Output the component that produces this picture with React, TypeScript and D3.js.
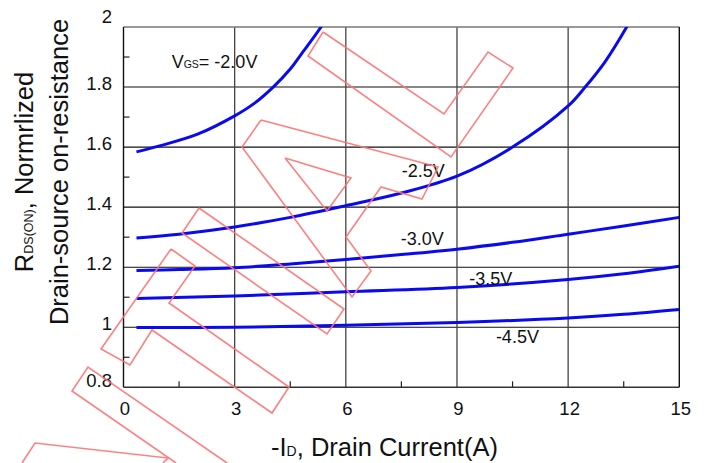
import React from "react";
import * as d3 from "d3";

// ---- data ----
const xTicks = [0, 3, 6, 9, 12, 15];
const xMinorTicks = [1.5, 4.5, 7.5, 10.5, 13.5];
const yTicks = [0.8, 1, 1.2, 1.4, 1.6, 1.8, 2];
const yTickLabels = ["0.8", "1", "1.2", "1.4", "1.6", "1.8", "2"];
const yMinorTicks = [0.9, 1.1, 1.3, 1.5, 1.7, 1.9];

const x20 = [0.35, 1, 2, 3, 3.5, 4.04, 4.5, 4.77, 5.33, 5.6];
const v20 = [1.584, 1.605, 1.643, 1.704, 1.743, 1.8, 1.86, 1.905, 2.0, 2.056];

const x25 = [0.35, 1.5, 3, 4.5, 6, 7.5, 9, 10.5, 12, 12.46, 13, 13.58, 13.8];
const v25 = [1.297, 1.31, 1.334, 1.366, 1.405, 1.447, 1.503, 1.6, 1.737, 1.8, 1.885, 2.0, 2.05];

const x30 = [0.35, 1.5, 3, 4.5, 6, 7.5, 9, 10.5, 12, 13.5, 15];
const v30 = [1.189, 1.192, 1.198, 1.211, 1.226, 1.242, 1.26, 1.283, 1.31, 1.337, 1.366];

const x35 = [0.35, 3, 6, 9, 12, 13.5, 15];
const v35 = [1.096, 1.104, 1.118, 1.132, 1.159, 1.178, 1.203];

const x45 = [0.35, 3, 6, 9, 12, 13.5, 15];
const v45 = [0.999, 1.0, 1.007, 1.016, 1.031, 1.043, 1.059];

const seriesNames = ["-2.0V", "-2.5V", "-3.0V", "-3.5V", "-4.5V"];
// label anchor points in data units
const labelX = [1.3, 7.51, 7.48, 9.33, 10.05];
const labelY = [1.862, 1.501, 1.273, 1.14, 0.946];

// decorative watermark outlines (not data)
const watermark: [number, number][][] = [
  [[323, 32], [444, 114], [488, 52], [513, 68], [451, 157], [308, 56], [323, 32]],
  [[261, 120], [438, 167], [422, 199], [381, 187], [346, 237], [371, 271], [352, 297], [242, 147], [261, 120]],
  [[285, 158], [351, 178], [327, 211], [285, 158]],
  [[199, 208], [344, 309], [327, 334], [182, 233], [199, 208]],
  [[171, 249], [195, 266], [169, 303], [289, 387], [272, 413], [152, 330], [130, 365], [101, 349], [171, 249]],
  [[227, 463], [88, 367], [72, 391], [176, 463]],
  [[22, 463], [35, 443], [168, 458], [163, 463]],
];

const W = 711;
const H = 463;
const L = 123.5, R = 679.3, T = 27, B = 387.3;

export default function App() {
  const x = d3.scaleLinear().domain([0, 15]).range([L, R]);
  const y = d3.scaleLinear().domain([0.8, 2.0]).range([B, T]);
  const line = d3
    .line<[number, number]>()
    .x((d) => x(d[0]))
    .y((d) => y(d[1]))
    .curve(d3.curveCatmullRom.alpha(0.5));

  const series = [
    d3.zip(x20, v20),
    d3.zip(x25, v25),
    d3.zip(x30, v30),
    d3.zip(x35, v35),
    d3.zip(x45, v45),
  ] as [number, number][][];

  const font = "'Liberation Sans', Arial, Helvetica, sans-serif";
  const yLabelOffset = (v: number) => (v === 2 ? -4.5 : v === 0.8 ? -0.5 : 2.5);
  const wm = d3.line<[number, number]>();

  return (
    <svg
      width={W}
      height={H}
      viewBox={`0 0 ${W} ${H}`}
      style={{ position: "absolute", left: 0, top: 0, background: "#fff" }}
      fontFamily={font}
    >
      <defs>
        <clipPath id="plot">
          <rect x={L} y={T} width={R - L} height={B - T} />
        </clipPath>
      </defs>
      <rect x={0} y={0} width={W} height={H} fill="#fff" />

      {/* grid */}
      {yTicks
        .filter((v) => v > 0.8 && v < 2)
        .map((v) => (
          <line key={"gy" + v} x1={L} x2={R} y1={y(v)} y2={y(v)} stroke="#111" strokeWidth={1.1} />
        ))}
      {xTicks
        .filter((v) => v > 0 && v < 15)
        .map((v) => (
          <line key={"gx" + v} x1={x(v)} x2={x(v)} y1={T} y2={B} stroke="#444" strokeWidth={1.3} />
        ))}
      {/* minor ticks */}
      {yMinorTicks.map((v) => (
        <line key={"my" + v} x1={L} x2={L + 6} y1={y(v)} y2={y(v)} stroke="#222" strokeWidth={1.2} />
      ))}
      {xMinorTicks.map((v) => (
        <line key={"mx" + v} x1={x(v)} x2={x(v)} y1={B} y2={B - 6} stroke="#222" strokeWidth={1.2} />
      ))}
      {/* frame */}
      <line x1={L} x2={R} y1={T} y2={T} stroke="#777" strokeWidth={1.3} />
      <line x1={R} x2={R} y1={T} y2={B} stroke="#111" strokeWidth={1.4} />
      <line x1={L} x2={L} y1={T} y2={B} stroke="#111" strokeWidth={1.4} />
      <line x1={L} x2={R} y1={B} y2={B} stroke="#333" strokeWidth={1.6} />

      {/* curves */}
      <g clipPath="url(#plot)">
        {series.map((s, i) => (
          <path key={"s" + i} d={line(s) || ""} fill="none" stroke="#0a0af0" strokeWidth={3} />
        ))}
      </g>

      {/* series labels */}
      <text x={x(labelX[0])} y={y(labelY[0])} fontSize={18} fill="#111">
        V<tspan fontSize={10.5}>GS</tspan>= {seriesNames[0]}
      </text>
      {seriesNames.slice(1).map((n, i) => (
        <text key={"l" + n} x={x(labelX[i + 1])} y={y(labelY[i + 1])} fontSize={18} fill="#111">
          {n}
        </text>
      ))}

      {/* tick labels */}
      {yTicks.map((v, i) => (
        <text key={"ty" + v} x={112} y={y(v) + yLabelOffset(v)} fontSize={18.5} textAnchor="end" fill="#111">
          {yTickLabels[i]}
        </text>
      ))}
      {xTicks.map((v) => (
        <text key={"tx" + v} x={x(v) + 1.5} y={B + 28} fontSize={18.5} textAnchor="middle" fill="#111">
          {v}
        </text>
      ))}

      {/* axis titles */}
      <text x={384.5} y={456} fontSize={25.5} textAnchor="middle" fill="#111">
        -I<tspan fontSize={14}>D</tspan>, Drain Current(A)
      </text>
      <g transform="translate(33,172) rotate(-90)">
        <text x={0} y={0} fontSize={25.5} textAnchor="middle" fill="#111">
          R<tspan fontSize={12.5}>DS(ON)</tspan>, Normrlized
        </text>
      </g>
      <g transform="translate(68,172) rotate(-90)">
        <text x={0} y={0} fontSize={25.5} textAnchor="middle" fill="#111">
          Drain-source on-resistance
        </text>
      </g>

      {/* watermark */}
      <g fill="none" stroke="#ff7373" strokeWidth={1.6} opacity={0.9}>
        {watermark.map((p, i) => (
          <path key={"w" + i} d={wm(p) || ""} />
        ))}
      </g>
    </svg>
  );
}
